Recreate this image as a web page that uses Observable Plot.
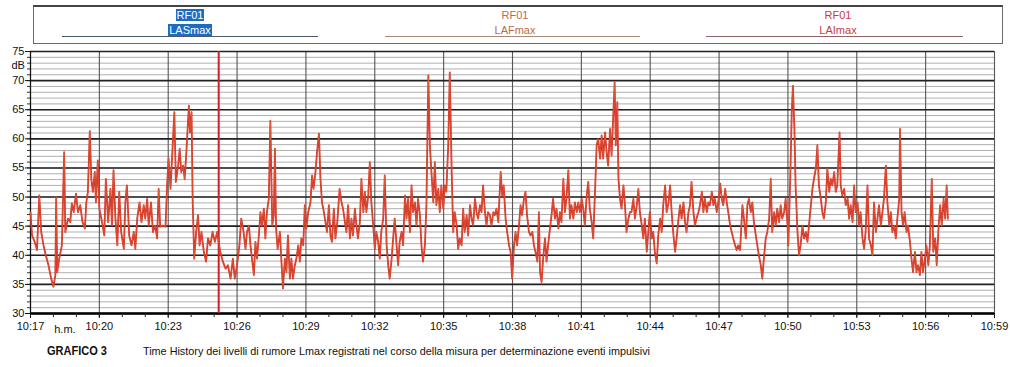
<!DOCTYPE html>
<html><head><meta charset="utf-8">
<script src="https://cdn.jsdelivr.net/npm/d3@7"></script>
<script src="https://cdn.jsdelivr.net/npm/@observablehq/plot@0.6"></script>
<style>
body{margin:0;background:#fff;font-family:"Liberation Sans Narrow","Arial Narrow","Liberation Sans",Arial,sans-serif;}
#wrap{position:relative;width:1010px;height:367px;overflow:hidden;}
#legend{position:absolute;left:33px;top:5px;width:968px;height:36px;border:1px solid #6b6b6b;border-top:2px solid #444;}
.item{position:absolute;top:0;text-align:center;font-size:11px;line-height:12px;}
.item .ln{position:absolute;top:29px;height:0;border-top:1.5px solid;}
.item .t{display:block;margin:0 auto;width:max-content;padding:0 1px;}
#chart{position:absolute;left:0;top:45px;}
#cap{position:absolute;top:345px;left:0;width:1010px;font-size:11px;color:#111;white-space:nowrap;}
#cap .g{position:absolute;left:47px;font-weight:bold;font-size:12px;top:-1px;transform-origin:left center;}
#cap .d{position:absolute;left:143px;transform-origin:left center;}
</style></head>
<body><div id="wrap">
<div id="legend"></div>
<div id="chart"></div>
<div id="cap"><span class="g"></span><span class="d"></span></div>
</div>
<script>
// ---- data ----
const startTime = "10:17:00";
const endTime = "10:59:00";
const seriesNames = ["LASmax", "LAFmax", "LAImax"];
const stationName = "RF01";
const yTickValues = [30, 35, 40, 45, 50, 55, 60, 65, 70, 75];
const xTickLabels = ["10:17","10:20","10:23","10:26","10:29","10:32","10:35","10:38","10:41","10:44","10:47","10:50","10:53","10:56","10:59"];
const cursorTimes = ["10:25:12"];
const unitLabel = "dB";
const timeUnitLabel = "h.m.";
const captionTitle = "GRAFICO 3";
const captionText = "Time History dei livelli di rumore Lmax registrati nel corso della misura per determinazione eventi impulsivi";

// elapsed seconds since 10:17:00 and level in dB(A)
const elapsedSec = [
0,4,11,17,23,28,34,40,47,54,60,65,67,70,75,82,88,91,98,104,108,113,119,124,130,136,142,146,150,155,159,163,168,171,176,180,187,193,197,203,209,213,217,222,227,232,237,244,248,252,258,264,270,274,279,285,290,296,300,305,309,315,320,326,331,335,339,346,353,357,361,366,370,376,380,386,390,394,399,403,408,414,417,421,424,428,433,438,442,447,453,459,464,470,476,482,488,496,503,510,516,523,529,534,540,546,551,557,562,566,571,575,579,584,588,592,597,601,605,610,614,618,623,
627,632,636,639,642,646,652,656,660,665,669,673,678,682,686,691,695,700,704,708,713,717,721,726,732,736,740,745,749,754,758,762,767,771,775,780,784,788,793,797,802,808,813,817,822,826,830,835,839,843,848,852,856,861,865,870,874,878,883,887,891,896,900,904,909,913,917,922,926,931,935,939,944,948,952,957,961,965,970,974,979,983,987,992,996,1000,1005,1009,1013,1018,1022,1026,1031,1035,1040,1044,1048,1053,1057,1061,1066,1070,1074,1079,1083,1087,1092,1096,1101,1105,1109,1114,1118,1122,1127,1131,1135,1140,1144,1149,1153,1157,1162,1166,1170,1175,1179,1183,1188,1192,1196,1201,1205,1210,1214,1218,1223,
1229,1233,1237,1242,1246,1251,1255,1259,1264,1268,1272,1277,1281,1285,1290,1294,1298,1303,1307,1312,1316,1320,1325,1329,1332,1336,1340,1345,1349,1353,1358,1362,1366,1371,1375,1380,1384,1388,1393,1397,1401,1406,1410,1414,1419,1423,1428,1432,1436,1441,1445,1449,1454,1458,1462,1467,1471,1476,1480,1484,1489,1493,1497,1502,1506,1510,1515,1519,1523,1527,1530,1534,1537,1541,1545,1550,1554,1558,1563,1567,1571,1576,1580,1585,1589,1593,1598,1602,1606,1611,1615,1619,1624,1628,1632,1637,1641,1646,1650,1654,1659,1663,1668,1672,1676,1680,1685,1689,1694,1698,1702,1707,1711,1715,1720,1724,1728,1733,1737,1741,1746,1750,1755,1759,1763,1768,1772,1776,1781,1785,1789,1794,1798,1803,1807,1811,1816,1820,1824,1829,1833,1837,1842,1846,1850,1855,
1861,1865,1870,1874,1878,1883,1887,1891,1896,1900,1904,1909,1913,1917,1922,1926,1931,1935,1939,1944,1948,1952,1957,1961,1965,1970,1974,1979,1981,1986,1990,1993,1997,2000,2005,2009,2013,2018,2022,2027,2031,2035,2040,2044,2048,2053,2057,2061,2066,2070,2074,2079,2083,2088,2092,2096,2101,2105,2109,2115,2118,2122,2127,2131,2136,2140,2144,2149,2153,2157,2162,2166,2170,2175,2179,2183,2188,2192,2197,2201,2205,2210,2214,2218,2223,2227,2231,2236,2240,2245,2249,2253,2258,2262,2266,2271,2273,2277,2281,2285,2290,2294,2299,2303,2307,2312,2316,2320,2325,2329,2333,2338,2342,2347,2351,2356,2360,2365,2369,2374,2378,2382,2387,2391,2395,2398
];
const levelDb = [
47.4,43.4,42.3,40.9,50.3,44,41.7,40,38.3,36,34.6,36.6,50,37.1,39.4,41.7,57.7,44,46.3,45.7,48.9,47.4,50.6,47.4,48.6,45.7,44.6,49.1,50.9,61.3,53.1,50.9,54.3,49.1,56.3,48,45.7,43.4,53.1,45.7,51.4,45.1,54.6,46.3,41.7,50.9,44,41.1,49.1,52,43.4,41.7,44,41.1,46.3,49.1,45.7,48.6,46.3,49.7,45.1,49.1,44,45.1,42.9,51.4,44.9,45.1,44.9,52,56.6,51.4,56.6,64.6,52.6,55.4,58.3,54.3,55.4,53.1,58.3,65.7,61.1,64.6,49.1,39.4,44,46.9,41.7,44,40.6,38.9,42.9,41.7,44,42.3,44,40.6,38.9,37.7,38.3,36,39.4,36,38.3,41.7,46.3,44,41.1,44,45.1,41.7,39.4,36.6,42.3,39.4,43.4,47.4,45.1,48,42.9,47.4,49.7,
63.1,45.1,46.9,58.3,44.6,41.1,44,38.9,34.3,39.4,37.1,43.4,36,39.4,36,38.3,39.4,41.7,38.9,42.9,41.7,48.6,44.6,47.4,49.1,53.7,51.4,54.3,57.7,60.9,53.1,49.1,47.4,45.7,44,48.6,43.4,42.3,48,42.9,45.7,51.4,49.1,48,45.7,44,48.6,42.9,46.3,43.4,48,45.1,42.9,45.7,53.1,47.4,50.9,47.4,50.3,56,49.1,45.1,41.1,44,42.3,39.4,44,46.3,53.7,41.7,38.3,36,39.4,42.9,46.3,41.7,38.3,42.3,44,41.7,50.3,46.3,49.7,44,52,47.4,49.1,45.1,49.7,46.9,41.7,38.9,41.7,48.6,70.9,58.9,54.3,49.1,56,48.6,51.4,47.4,52,48,52,50.9,58.9,71.4,54.3,44,47.4,45.1,41.1,42.9,41.7,48,44,46.9,43.4,48.6,46.3,45.1,49.7,47.4,46.3,48.6,47.4,52,47.4,45.1,47.4,46.9,45.1,47.4,46.9,48,45.7,
54.3,50.3,52,46.3,44,41.7,40.6,36,41.7,44,41.7,45.1,48.6,46.9,49.7,50.9,46.9,44,43.4,44,41.7,40.6,38.9,47.4,37.1,35.4,39.4,42.9,38.9,41.7,44.6,46.9,49.7,46.3,48,44.6,47.4,45.7,53.1,47.4,49.7,54.6,46.3,48.6,46.3,49.1,47.4,49.1,47.4,49.7,48,45.1,50.3,52.6,48,45.7,42.9,51.4,58.9,60,56.6,60.6,56.6,61.1,57.7,55.4,61.7,57.1,63.4,69.7,58.9,66.3,53.1,49.7,48,52,48.6,44,46.3,47.4,47.4,49.7,46.3,48.6,51.4,47.4,45.1,42.9,46.3,40.6,44,47.4,42.9,44,40.6,38.6,43.4,46.3,44,48.6,52,47.4,49.1,52,47.4,44,40.6,42.9,46.3,48.6,46.3,49.1,45.7,44,47.4,48.6,52.6,47.4,45.1,46.3,47.4,48.6,50.9,47.4,49.7,47.4,49.1,48.6,50.9,48.6,49.7,47.4,49.1,52.3,49.7,48.6,51.4,49.1,47.4,45.1,44,42.9,41.7,40.9,41.7,40.9,
48.6,46.3,42.9,48.6,49.7,47.4,49.1,45.7,43.4,41.7,40,38.3,36,39.4,42.9,44,46.3,53.1,44,47.4,45.1,48,45.7,48.6,46.3,47.4,49.7,45.1,41.7,53.1,64.6,69.1,61.7,52,44,40,41.7,45.1,42.9,44,42.3,45.1,48.6,51.4,53.1,54.9,58.9,52,49.7,47.4,46.3,49.1,54.9,50.9,53.1,52,54.3,50.9,52,61.1,52,50.3,51.4,48.6,49.7,46.3,48.6,45.7,52,47.4,49.1,45.1,47.4,42.9,41.1,44,52,42.9,41.7,40,49.1,44,46.3,48.6,45.1,47.4,49.7,55.4,49.1,45.1,47.4,44,45.1,42.9,46.3,49.7,61.7,47.4,45.1,47.4,44,45.1,42.3,39.4,37.1,40.6,37.1,38.3,36.6,40.6,37.1,39.4,41.7,38.3,41.7,53.1,40.6,42.9,38.3,45.1,48.6,45.1,49.7,46.3,52,46.3
];

// ---- build ----
const day = "2000-01-01T";
const toDate = hms => new Date(day + (hms.length === 5 ? hms + ":00" : hms) + "Z");
const t0 = toDate(startTime);
const data = elapsedSec.map((s, i) => ({time: new Date(+t0 + s * 1000), db: levelDb[i]}));
const xTicks = xTickLabels.map(toDate);
const minuteTicks = d3.utcMinute.range(t0, new Date(+toDate(endTime) + 1));
const minorDb = d3.range(yTickValues[0], yTickValues[yTickValues.length - 1] + 1);
const cursors = cursorTimes.map(toDate);

const chart = Plot.plot({
  width: 1010, height: 295,
  marginLeft: 30, marginRight: 16, marginTop: 6, marginBottom: 27,
  style: {fontFamily: '"Liberation Sans Narrow","Arial Narrow","Liberation Sans",Arial,sans-serif', fontSize: "11px", color: "#111", background: "#fff"},
  x: {type: "utc", domain: [t0, toDate(endTime)], label: null},
  y: {domain: [yTickValues[0], yTickValues[yTickValues.length - 1]], label: null},
  marks: [
    Plot.ruleY(minorDb, {stroke: "#9a9a9a", strokeWidth: 0.8}),
    Plot.ruleX(xTicks, {stroke: "#555", strokeWidth: 1.1}),
    Plot.ruleY(yTickValues, {stroke: "#222", strokeWidth: 1.6}),
    Plot.ruleY([yTickValues[0]], {stroke: "#000", strokeWidth: 2.6}),
    Plot.ruleX([t0], {stroke: "#111", strokeWidth: 1.2}),
    Plot.ruleX(cursors, {stroke: "#d0202a", strokeWidth: 2}),
    Plot.line(data, {x: "time", y: "db", stroke: "#d2302a", strokeWidth: 1.8}),
    Plot.line(data, {x: "time", y: "db", stroke: "#f08a3a", strokeWidth: 0.5, strokeOpacity: 0.6}),
    Plot.axisY(minorDb, {tickSize: 3, tickFormat: () => "", stroke: "#333", label: null}),
    Plot.axisY(yTickValues, {tickSize: 5, tickPadding: 1, label: null, fontSize: 11}),
    Plot.axisX(minuteTicks, {tickSize: 4, tickFormat: () => "", stroke: "#222", label: null}),
    Plot.axisX(xTicks, {tickSize: 5, tickPadding: 4, tickFormat: d3.utcFormat("%H:%M"), label: null, fontSize: 11}),
    Plot.text([unitLabel], {frameAnchor: "top-left", dx: -19, dy: 10, fontSize: 11}),
    Plot.text([timeUnitLabel], {x: [toDate("10:18:30")], y: [yTickValues[0]], dy: 16, fontSize: 11})
  ]
});
document.getElementById("chart").appendChild(chart);

// legend
const legendItems = [
  {name: seriesNames[0], cx: 190, x1: 62, x2: 318, text: "#fff", bg: "#1d6cc2", line: "#4a5a6a"},
  {name: seriesNames[1], cx: 515, x1: 385, x2: 640, text: "#b86e45", bg: "none", line: "#a88a78"},
  {name: seriesNames[2], cx: 838, x1: 706, x2: 963, text: "#c63c48", bg: "none", line: "#8e6468"}
];
const leg = document.getElementById("legend");
for (const it of legendItems) {
  const d = document.createElement("div");
  d.className = "item";
  d.style.left = (it.cx - 34 - 60) + "px";
  d.style.width = "120px";
  d.innerHTML = `<span class="t" style="color:${it.text};background:${it.bg === "none" ? "transparent" : it.bg};margin-top:2px">${stationName}</span>` +
                `<span class="t" style="color:${it.text};background:${it.bg === "none" ? "transparent" : it.bg};margin-top:3px">${it.name}</span>`;
  leg.appendChild(d);
  const l = document.createElement("div");
  l.className = "item";
  l.innerHTML = `<div class="ln" style="left:${it.x1 - 34}px;width:${it.x2 - it.x1}px;border-color:${it.line}"></div>`;
  leg.appendChild(l);
}
// caption
const gsp = document.querySelector("#cap .g");
gsp.textContent = captionTitle;
gsp.style.transform = `scaleX(${60 / gsp.getBoundingClientRect().width})`;
const dsp = document.querySelector("#cap .d");
dsp.textContent = captionText;
const w = dsp.getBoundingClientRect().width;
dsp.style.transform = `scaleX(${507 / w})`;
</script>
</body></html>
